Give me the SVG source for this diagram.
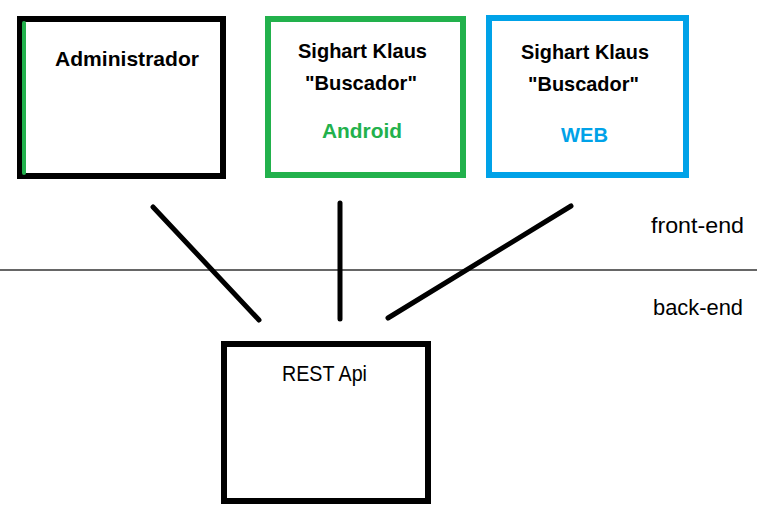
<svg xmlns="http://www.w3.org/2000/svg" width="757" height="519" viewBox="0 0 757 519">
<style>
.box{fill:#fff;stroke-width:6}
.b{font-family:"Liberation Sans",Arial,sans-serif;font-weight:bold;font-size:21px;text-anchor:middle;fill:#000}
.r{font-family:"Liberation Sans",Arial,sans-serif;font-size:22px;fill:#000}
.conn line{stroke:#000;stroke-width:5;stroke-linecap:round}
</style>
<rect x="0" y="0" width="757" height="519" fill="#fff"/>
<line x1="0" y1="270" x2="757" y2="270" stroke="#333" stroke-width="1.5"/>
<text class="r" x="651" y="233" textLength="93" lengthAdjust="spacingAndGlyphs">front-end</text>
<text class="r" x="653" y="315" textLength="90" lengthAdjust="spacingAndGlyphs">back-end</text>
<g id="admin">
<rect class="box" x="20" y="19" width="203" height="157" stroke="#000"/>
<line x1="24" y1="23" x2="24" y2="173" stroke="#22B14C" stroke-width="4" stroke-linecap="round"/>
<text class="b" x="127" y="66" textLength="144" lengthAdjust="spacingAndGlyphs">Administrador</text>
</g>
<g id="android">
<rect class="box" x="268" y="19" width="195" height="156" stroke="#22B14C"/>
<text class="b" x="362.5" y="58" textLength="129" lengthAdjust="spacingAndGlyphs">Sighart Klaus</text>
<text class="b" x="361" y="90" textLength="112" lengthAdjust="spacingAndGlyphs">"Buscador"</text>
<text class="b" x="362" y="138" style="fill:#22B14C" textLength="80" lengthAdjust="spacingAndGlyphs">Android</text>
</g>
<g id="web">
<rect class="box" x="489" y="18" width="197" height="157" stroke="#00A2E8"/>
<text class="b" x="585" y="59" textLength="128" lengthAdjust="spacingAndGlyphs">Sighart Klaus</text>
<text class="b" x="583.5" y="91" textLength="111" lengthAdjust="spacingAndGlyphs">"Buscador"</text>
<text class="b" x="584.5" y="142" style="fill:#00A2E8" textLength="47" lengthAdjust="spacingAndGlyphs">WEB</text>
</g>
<g id="rest">
<rect class="box" x="224" y="344" width="204" height="157" stroke="#000"/>
<text class="r" x="282" y="381" textLength="85" lengthAdjust="spacingAndGlyphs">REST Api</text>
</g>
<g class="conn" id="connectors">
<line x1="153" y1="207" x2="259" y2="320"/>
<line x1="340" y1="203" x2="340" y2="319"/>
<line x1="571" y1="206" x2="388" y2="318"/>
</g>
</svg>
